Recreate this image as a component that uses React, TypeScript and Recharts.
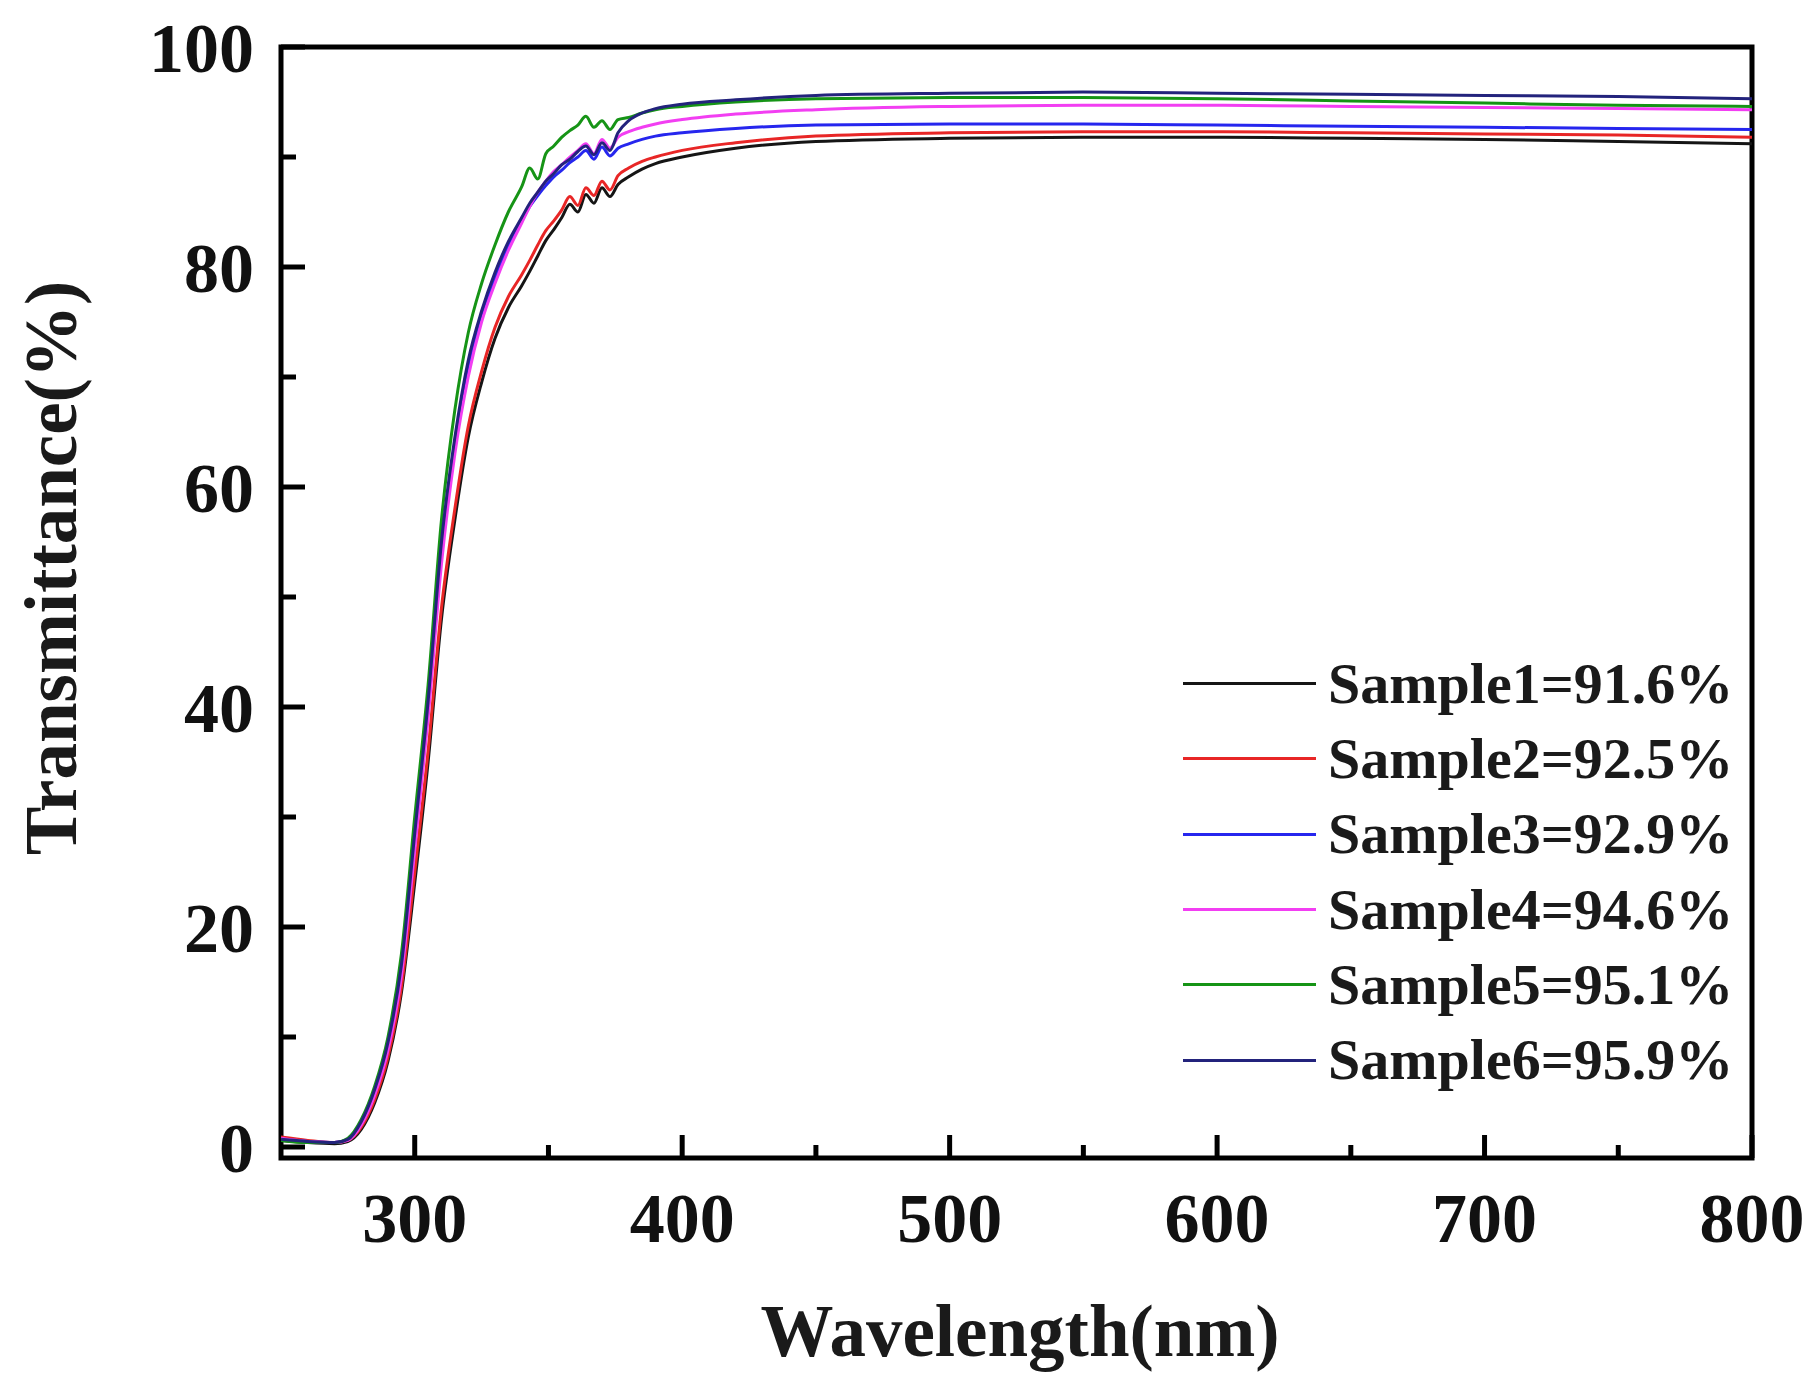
import { LineChart, Line, XAxis, YAxis, Legend, ReferenceArea, Label } from "recharts"

const wavelength = [
  250, 260, 270, 275, 280, 285, 290, 295, 300, 305, 310, 315, 320, 325, 330, 335, 340, 343, 346, 349,
  352, 355, 358, 361, 364, 367, 370, 373, 376, 380, 385, 390, 400, 420, 450, 500, 550, 600, 650, 700,
  750, 800,
]

const sample1 = [
  0.6, 0.4, 0.3, 0.5, 1.6, 4, 7.8, 14, 24, 35, 48, 57, 64.5, 69.5, 73.5, 76.3, 78.3, 79.6, 81, 82.4,
  83.4, 84.5, 85.7, 85, 86.6, 85.8, 87.2, 86.4, 87.5, 88.2, 88.9, 89.4, 90, 90.8, 91.4, 91.7, 91.8, 91.8, 91.7, 91.6,
  91.4, 91.2,
]
const sample2 = [
  0.9, 0.6, 0.4, 0.6, 1.8, 4.3, 8.2, 14.5, 25, 36, 49, 58, 65.5, 70.5, 74.5, 77.3, 79.3, 80.6, 82, 83.3,
  84.2, 85.2, 86.4, 85.6, 87.2, 86.5, 87.8, 87, 88.3, 89, 89.6, 90, 90.6, 91.3, 91.9, 92.2, 92.3, 92.3, 92.2, 92.1,
  92, 91.8,
]
const sample3 = [
  0.7, 0.5, 0.4, 0.7, 2.2, 5, 9.3, 16, 28, 40, 54, 64, 71, 75.5, 79, 82, 84.2, 85.5, 86.5, 87.4,
  88.2, 88.8, 89.5, 90, 90.6, 89.8, 90.9, 90.1, 90.8, 91.2, 91.6, 91.9, 92.2, 92.6, 92.9, 93, 93, 92.9, 92.8, 92.7,
  92.6, 92.5,
]
const sample4 = [
  0.8, 0.5, 0.4, 0.6, 2, 4.7, 8.8, 15.5, 27, 39, 53, 63, 70, 75, 78.5, 81.5, 84, 85.5, 86.8, 87.8,
  88.7, 89.3, 90, 90.6, 91.2, 90.3, 91.6, 90.8, 91.8, 92.3, 92.7, 93, 93.4, 93.9, 94.3, 94.6, 94.7, 94.7, 94.6, 94.5,
  94.4, 94.3,
]
const sample5 = [
  0.6, 0.4, 0.4, 0.8, 2.5, 5.5, 10, 17.5, 30, 42, 57, 67, 74, 78.5, 82, 85, 87.3, 89, 88, 90.3,
  91, 91.8, 92.4, 92.9, 93.7, 92.7, 93.3, 92.5, 93.4, 93.6, 94, 94.3, 94.6, 95, 95.3, 95.4, 95.4, 95.3, 95.1, 94.9,
  94.7, 94.6,
]
const sample6 = [
  0.7, 0.5, 0.4, 0.7, 2.3, 5.2, 9.5, 16.5, 28.5, 40.5, 55, 64.5, 71.5, 76, 79.5, 82.3, 84.5, 85.8, 86.8, 87.8,
  88.5, 89.3, 89.8, 90.5, 91, 90.2, 91.3, 90.6, 92.2, 93.3, 94, 94.4, 94.8, 95.2, 95.6, 95.8, 95.9, 95.8, 95.7, 95.6,
  95.5, 95.3,
]

const seriesNames = [
  "Sample1=91.6%",
  "Sample2=92.5%",
  "Sample3=92.9%",
  "Sample4=94.6%",
  "Sample5=95.1%",
  "Sample6=95.9%",
]
const seriesColors = ["#151515", "#e82626", "#2626ee", "#f23ef2", "#169416", "#23237c"]

const xTicks = [300, 350, 400, 450, 500, 550, 600, 650, 700, 750, 800]
const yTicks = [0, 10, 20, 30, 40, 50, 60, 70, 80, 90, 100]

const data = wavelength.map((w, i) => ({
  w,
  s1: sample1[i],
  s2: sample2[i],
  s3: sample3[i],
  s4: sample4[i],
  s5: sample5[i],
  s6: sample6[i],
}))

const FONT = '"Liberation Serif", "Times New Roman", serif'

const XTick = (props: any) => {
  const { x, y, payload } = props
  const major = payload.value % 100 === 0
  return (
    <g>
      <line x1={x} x2={x} y1={y} y2={y - (major ? 23 : 13)} stroke="#000" strokeWidth={5} />
      {major && (
        <text x={x} y={y + 84} textAnchor="middle" fontFamily={FONT} fontWeight="bold" fontSize={70} fill="#111">
          {payload.value}
        </text>
      )}
    </g>
  )
}

const YTick = (props: any) => {
  const { x, y, payload } = props
  const major = payload.value % 20 === 0
  return (
    <g>
      <line x1={x} x2={x + (major ? 24 : 15)} y1={y} y2={y} stroke="#000" strokeWidth={5} />
      {major && (
        <text x={x - 27} y={y} dy="0.35em" textAnchor="end" fontFamily={FONT} fontWeight="bold" fontSize={70} fill="#111">
          {payload.value}
        </text>
      )}
    </g>
  )
}

const renderLegend = (props: any) => {
  const { payload } = props
  return (
    <div style={{ fontFamily: FONT, fontWeight: "bold", fontSize: 58, color: "#1a1a1a" }}>
      {payload.map((p: any) => (
        <div key={p.value} style={{ display: "flex", alignItems: "center", height: 75.3 }}>
          <div style={{ width: 133, height: 0, borderTop: `3px solid ${p.color}`, marginRight: 12 }} />
          <span style={{ lineHeight: 1 }}>{p.value}</span>
        </div>
      ))}
    </div>
  )
}

export default function App() {
  return (
    <div style={{ position: "relative", width: 1809, height: 1389, background: "#fff" }}>
      <LineChart width={1809} height={1389} data={data} margin={{ top: 39, right: 65, left: 0, bottom: 0 }}>
        <XAxis
          dataKey="w"
          type="number"
          domain={[250, 800]}
          ticks={xTicks}
          interval={0}
          allowDataOverflow
          axisLine={false}
          tickLine={false}
          tickSize={0}
          tickMargin={0}
          tick={<XTick />}
          height={239}
        >
          <Label
            content={() => (
              <text x={1012} y={1348} textAnchor="middle" fontFamily={FONT} fontWeight="bold" fontSize={73} fill="#1a1a1a">
                Wavelength(nm)
              </text>
            )}
          />
        </XAxis>
        <YAxis
          type="number"
          domain={[-1, 100]}
          ticks={yTicks}
          interval={0}
          allowDataOverflow
          axisLine={false}
          tickLine={false}
          tickSize={0}
          tickMargin={0}
          tick={<YTick />}
          width={273}
        >
          <Label
            content={() => (
              <text
                x={68}
                y={560}
                transform="rotate(-90 68 560)"
                textAnchor="middle"
                fontFamily={FONT}
                fontWeight="bold"
                fontSize={73}
                fill="#1a1a1a"
              >
                Transmittance(%)
              </text>
            )}
          />
        </YAxis>
        {seriesNames.map((name, i) => (
          <Line
            key={name}
            type="monotone"
            dataKey={`s${i + 1}`}
            name={name}
            stroke={seriesColors[i]}
            strokeWidth={3}
            dot={false}
            activeDot={false}
            isAnimationActive={false}
          />
        ))}
        <ReferenceArea x1={250} x2={800} y1={-1} y2={100} fill="none" stroke="#000" strokeWidth={5} />
        <Legend
          layout="vertical"
          align="center"
          verticalAlign="middle"
          content={renderLegend}
          wrapperStyle={{ position: "absolute", left: 1175, top: 638, width: "auto", height: "auto" }}
        />
      </LineChart>
    </div>
  )
}
